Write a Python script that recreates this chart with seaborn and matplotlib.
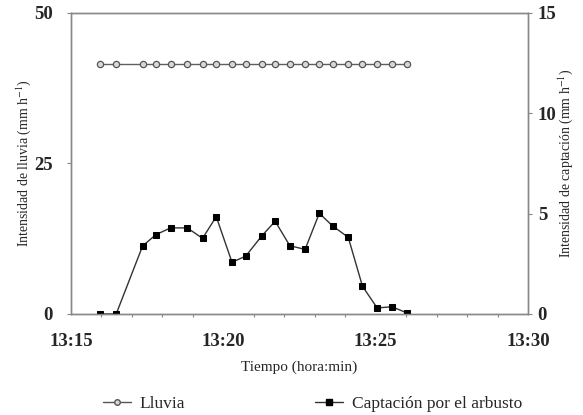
import matplotlib
matplotlib.use("Agg")
import matplotlib.pyplot as plt
import seaborn as sns
import numpy as np
import pandas as pd
from matplotlib.lines import Line2D

# ---- data ----
times = ["13:15:57", "13:16:29", "13:17:21", "13:17:47", "13:18:16", "13:18:49",
         "13:19:19", "13:19:46", "13:20:17", "13:20:44", "13:21:16", "13:21:42",
         "13:22:11", "13:22:41", "13:23:09", "13:23:35", "13:24:06", "13:24:34",
         "13:25:03", "13:25:32", "13:26:01"]
lluvia = [41.5] * 21
captacion = [0.0, 0.0, 3.39, 3.95, 4.29, 4.29, 3.77, 4.85, 2.58, 2.88, 3.90,
             4.62, 3.40, 3.22, 5.02, 4.39, 3.82, 1.38, 0.30, 0.36, 0.06]
xtick_labels = ["13:15", "13:20", "13:25", "13:30"]

def to_min(t):
    h, m, s = [int(v) for v in t.split(":")]
    return (h * 60 + m + s / 60.0) - (13 * 60 + 15)

df = pd.DataFrame({"t": [to_min(t) for t in times],
                   "lluvia": lluvia, "captacion": captacion})

sns.set_theme(style="white")
plt.rcParams["font.family"] = ["Liberation Serif", "DejaVu Serif"]
plt.rcParams["mathtext.fontset"] = "stix"

fig = plt.figure(figsize=(5.83, 4.15), dpi=100)
ax = fig.add_axes([0.1218, 0.2434, 0.7839, 0.7253])
ax2 = ax.twinx()

sns.lineplot(data=df, x="t", y="lluvia", ax=ax, color="#606060", lw=1.0,
             marker="o", markersize=4.5, markerfacecolor="#d8d8d8",
             markeredgecolor="#555555", markeredgewidth=0.9)
sns.lineplot(data=df, x="t", y="captacion", ax=ax2, color="#333333", lw=1.0,
             marker="s", markersize=4.5, markerfacecolor="black",
             markeredgecolor="black")

ax.set_xlim(0, 15)
ax.set_ylim(0, 50)
ax2.set_ylim(0, 15)
ax.set_xticks([0, 5, 10, 15])
ax.set_xticklabels(xtick_labels)
ax.set_xticks(np.arange(0, 16, 1), minor=True)
ax.set_yticks([0, 25, 50])
ax2.set_yticks([0, 5, 10, 15])

for a in (ax, ax2):
    for sp in a.spines.values():
        sp.set_color("#888888")
        sp.set_linewidth(1.0)
    a.tick_params(axis="both", which="major", direction="out", length=3,
                  width=0.8, color="#888888", labelsize=13.5, pad=3)
    a.tick_params(axis="x", which="minor", direction="out", length=2,
                  width=0.8, color="#888888", bottom=True)
for lab in ax.get_xticklabels() + ax.get_yticklabels() + ax2.get_yticklabels():
    lab.set_fontweight("bold")
ax.tick_params(axis="x", pad=11)
ax.tick_params(axis="y", pad=10)
ax2.tick_params(axis="y", pad=4)

ax.set_xlabel("Tiempo (hora:min)", fontsize=11, labelpad=7)
ax.set_ylabel(r"Intensidad de lluvia (mm h$^{-1}$)", fontsize=10, labelpad=1)
ax2.set_ylabel(r"Intensidad de captación (mm h$^{-1}$)", fontsize=10, labelpad=0)

handles = [
    Line2D([], [], color="#555555", lw=1.0, marker="o", markersize=4,
           markerfacecolor="#d8d8d8", markeredgecolor="#555555"),
    Line2D([], [], color="#333333", lw=1.0, marker="s", markersize=4,
           markerfacecolor="black", markeredgecolor="black"),
]
fig.legend(handles, ["Lluvia", "Captación por el arbusto"], loc="center",
           bbox_to_anchor=(0.536, 0.027), ncol=2, frameon=False,
           fontsize=12.5, columnspacing=7.5, handlelength=1.6, handletextpad=0.5)

fig.savefig("out.png", dpi=100)
